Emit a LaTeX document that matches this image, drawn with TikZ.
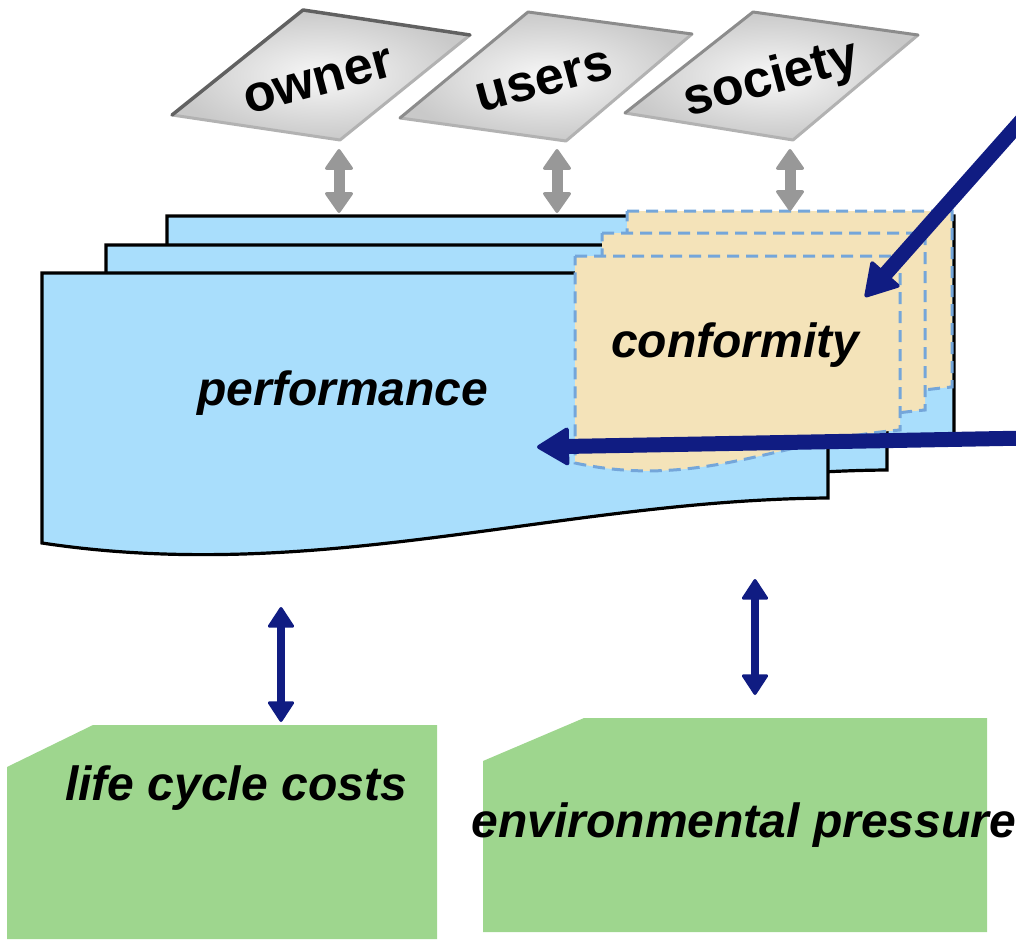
\documentclass[tikz,border=0pt]{standalone}
\usepackage{fontspec}
\setmainfont{Liberation Sans}
\usetikzlibrary{arrows.meta}

\definecolor{docblue}{RGB}{169,222,252}
\definecolor{confbeige}{RGB}{244,227,185}
\definecolor{dashblue}{RGB}{116,166,218}
\definecolor{boxgreen}{RGB}{158,214,142}
\definecolor{navy}{RGB}{16,28,130}
\definecolor{arrowgray}{RGB}{152,152,152}

\begin{document}
\begin{tikzpicture}[x=1pt,y=-1pt,
  docsheet/.style={fill=docblue, draw=black, line width=3.2pt, line join=miter},
  confsheet/.style={fill=confbeige, draw=dashblue, line width=3pt, dash pattern=on 12pt off 7pt},
  greenbox/.style={fill=boxgreen, draw=none},
  stakeholder/.style={inner color=white!94!gray, outer color=gray!42},
  darkedge/.style={draw=black!62, line width=3.5pt, line join=round, line cap=round},
  lightedge/.style={draw=black!30, line width=3pt, line join=round, line cap=round},
  softedge/.style={draw=black!45, line width=3pt, line join=round, line cap=round},
  stlabel/.style={inner sep=0pt, anchor=base, rotate=15, font=\fontsize{52}{60}\selectfont\bfseries},
  mainlabel/.style={inner sep=0pt, anchor=base, font=\fontsize{48}{56}\selectfont\bfseries\itshape},
  grayarrow/.style={draw=arrowgray, line width=11pt,
    arrows={Triangle[round,line width=3pt,length=22pt,width=30pt]-Triangle[round,line width=3pt,length=22pt,width=30pt]}},
  navyarrow/.style={draw=navy, line width=8pt,
    arrows={Triangle[round,line width=3pt,length=22pt,width=28pt]-Triangle[round,line width=3pt,length=22pt,width=28pt]}},
  bigarrow/.style={draw=navy, line width=15pt,
    arrows={-Triangle[round,line width=4pt,length=34pt,width=40pt]}}
]
\useasboundingbox (0,0) rectangle (1016,939);

% --- stakeholder plates ---
\shade[stakeholder] (172,115) -- (303,10) -- (470,35) -- (340,140) -- cycle;
\draw[lightedge] (470,35) -- (340,140) -- (172,115);
\draw[darkedge] (172,115) -- (303,10) -- (470,35);

\shade[stakeholder] (400,118) -- (528,12) -- (692,34) -- (566,141) -- cycle;
\draw[lightedge] (692,34) -- (566,141) -- (400,118);
\draw[softedge] (400,118) -- (528,12) -- (692,34);

\shade[stakeholder] (625,113) -- (753,12) -- (918,35) -- (793,140) -- cycle;
\draw[lightedge] (918,35) -- (793,140) -- (625,113);
\draw[softedge] (625,113) -- (753,12) -- (918,35);

\node[stlabel] (owner) at (322,95) {owner};
\node[stlabel] (users) at (548,95) {users};
\node[stlabel] (society) at (775,93) {society};

% --- performance document stack ---
\draw[docsheet] (167,216) -- (954,216) -- (954,440)
  .. controls (686,442) and (444,527) .. (167,485) -- cycle;
\draw[docsheet] (106,245) -- (887,245) -- (887,470)
  .. controls (620,472) and (384,557) .. (106,515) -- cycle;
\draw[docsheet] (42,273) -- (828,273) -- (828,498)
  .. controls (560,500) and (320,585) .. (42,543) -- cycle;

% --- conformity document stack ---
\draw[confsheet] (627,211) -- (952,211) -- (952,387)
  .. controls (832,397) and (752,447) .. (627,417) -- cycle;
\draw[confsheet] (602,233) -- (925,233) -- (925,410)
  .. controls (805,420) and (727,470) .. (602,440) -- cycle;
\draw[confsheet] (575,256) -- (900,256) -- (900,430)
  .. controls (780,440) and (700,490) .. (575,463) -- cycle;

\node[mainlabel] (performance) at (343,405) {performance};
\node[mainlabel] (conformity) at (735,357) {conformity};

% --- outcome boxes ---
\fill[greenbox] (7,767) -- (93,725) -- (437,725) -- (437,939) -- (7,939) -- cycle;
\fill[greenbox] (483,761) -- (584,718) -- (987,718) -- (987,932) -- (483,932) -- cycle;
\node[mainlabel] (lcc) at (236,800) {life cycle costs};
\node[mainlabel] (env) at (744,837) {environmental pressure};

% --- anchor points for connectors ---
\coordinate (owner-s) at (339,149);
\coordinate (users-s) at (557,149);
\coordinate (society-s) at (790,149);
\coordinate (perf-n1) at (339,213);
\coordinate (perf-n2) at (557,213);
\coordinate (conf-n) at (790,211);
\coordinate (perf-s1) at (281,607);
\coordinate (lcc-n) at (281,722);
\coordinate (perf-s2) at (755,579);
\coordinate (env-n) at (755,695);
\coordinate (in-a) at (1030,111);
\coordinate (conf-tip) at (865,297);
\coordinate (in-b) at (1030,438);
\coordinate (perf-tip) at (537,447);

% --- connectors ---
\draw[grayarrow] (owner-s) -- (perf-n1);
\draw[grayarrow] (users-s) -- (perf-n2);
\draw[grayarrow] (society-s) -- (conf-n);

\draw[navyarrow] (perf-s1) -- (lcc-n);
\draw[navyarrow] (perf-s2) -- (env-n);

\draw[bigarrow] (in-a) -- (conf-tip);
\draw[bigarrow] (in-b) -- (perf-tip);
\end{tikzpicture}
\end{document}
